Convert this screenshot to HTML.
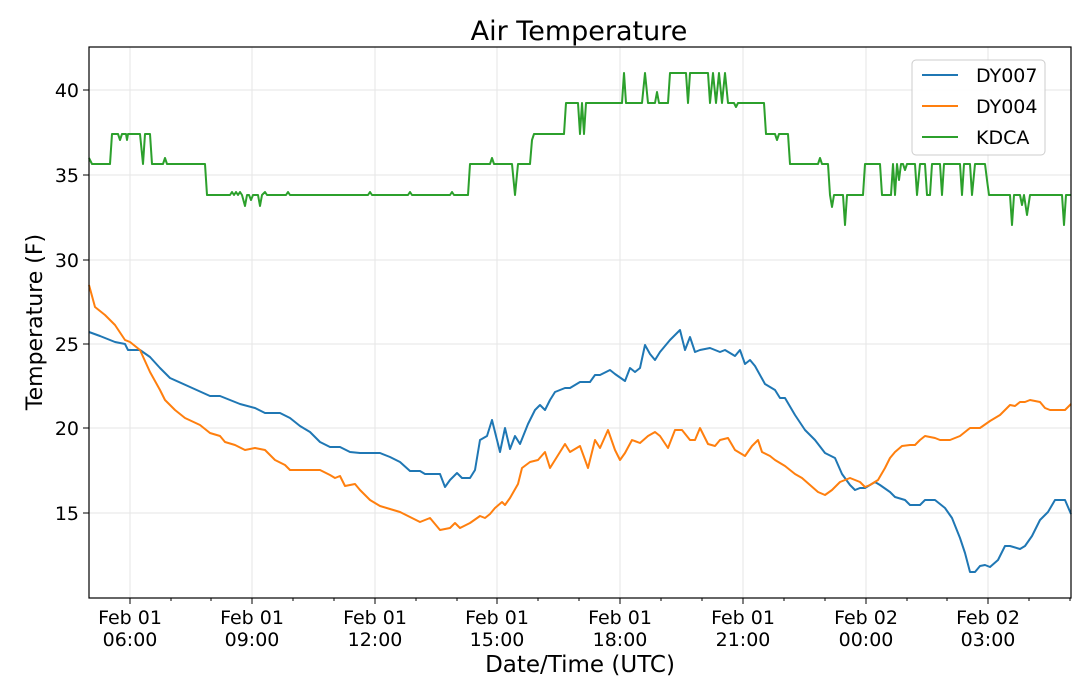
<!DOCTYPE html>
<html><head><meta charset="utf-8"><style>
html,body{margin:0;padding:0;background:#fff;}
svg{display:block;font-family:"DejaVu Sans","Liberation Sans",sans-serif;}
</style></head><body>
<svg width="1080" height="686" viewBox="0 0 1080 686" xmlns="http://www.w3.org/2000/svg">
<rect width="1080" height="686" fill="#fff"/>
<g stroke="#e6e6e6" stroke-width="1">
<line x1="130" y1="47" x2="130" y2="598"/><line x1="252" y1="47" x2="252" y2="598"/>
<line x1="375" y1="47" x2="375" y2="598"/><line x1="497" y1="47" x2="497" y2="598"/>
<line x1="620" y1="47" x2="620" y2="598"/><line x1="743" y1="47" x2="743" y2="598"/>
<line x1="866" y1="47" x2="866" y2="598"/><line x1="988" y1="47" x2="988" y2="598"/>
<line x1="89" y1="90" x2="1071" y2="90"/><line x1="89" y1="175" x2="1071" y2="175"/>
<line x1="89" y1="260" x2="1071" y2="260"/><line x1="89" y1="344" x2="1071" y2="344"/>
<line x1="89" y1="428" x2="1071" y2="428"/><line x1="89" y1="513" x2="1071" y2="513"/>
</g>
<g fill="none" stroke-width="2" stroke-linejoin="round">
<polyline stroke="#2ca02c" points="89,158 92,164 110,164 112,134 118,134 120,140 122,134 126,134 127,140 128,134 140,134 143,164 145,134 150,134 152,164 163,164 165,158 167,164 205,164 207,195 230,195 232,192 234,195 236,192 238,195 240,192 242,195 245,206 247,195 249,195 251,200 253,195 258,195 260,206 262,195 265,192 267,195 286,195 288,192 290,195 368,195 370,192 372,195 408,195 410,192 412,195 450,195 452,192 454,195 468,195 470,164 490,164 492,158 494,164 512,164 515,195 518,164 530,164 532,140 534,134 564,134 566,103 578,103 580,134 582,103 584,134 586,103 622,103 624,73 626,103 642,103 645,73 648,103 655,103 657,92 659,103 668,103 670,73 686,73 688,103 690,73 708,73 710,103 713,73 716,103 719,73 722,103 725,73 728,103 734,103 736,107 738,103 764,103 766,134 775,134 777,140 779,134 788,134 790,164 818,164 820,158 822,164 828,164 830,195 832,207 834,195 843,195 845,225 847,195 863,195 865,164 880,164 882,195 891,195 893,164 895,195 897,164 899,180 901,164 903,164 905,170 907,164 915,164 917,195 920,164 925,164 927,195 930,195 932,164 940,164 942,195 944,164 960,164 962,195 964,164 970,164 972,195 975,164 985,164 987,180 989,195 1010,195 1012,225 1014,195 1020,195 1022,205 1024,195 1027,215 1030,195 1062,195 1064,225 1066,195 1071,195"/>
<polyline stroke="#1f77b4" points="89,332 100,336 115,342 125,344 128,350 140,350 150,357 160,368 170,378 190,387 210,396 220,396 240,404 255,408 265,413 280,413 290,418 300,426 310,432 320,442 330,447 340,447 350,452 360,453 380,453 390,457 400,462 410,471 420,471 425,474 440,474 445,487 450,480 457,473 462,478 470,478 475,470 480,440 487,436 492,420 500,452 505,428 510,449 515,436 520,444 528,424 535,410 540,405 545,410 550,400 555,392 565,388 570,388 580,382 590,382 595,375 600,375 610,370 615,374 625,381 630,368 635,372 640,368 645,345 650,354 655,360 660,352 670,340 680,330 685,350 690,337 695,352 700,350 710,348 720,352 725,350 735,356 740,350 745,364 750,360 755,366 765,384 775,390 780,398 785,398 795,415 805,430 815,440 825,453 835,458 842,474 850,485 855,490 860,488 865,488 870,485 875,482 880,485 890,492 895,497 905,500 910,505 920,505 925,500 935,500 945,508 952,518 960,538 965,553 970,572 975,572 980,566 985,565 990,567 998,560 1005,546 1010,546 1020,549 1025,546 1032,536 1040,520 1048,512 1055,500 1065,500 1071,514"/>
<polyline stroke="#ff7f0e" points="89,285 95,307 105,315 115,325 125,340 130,342 140,350 150,372 160,390 165,400 175,410 185,418 200,425 210,433 220,436 225,442 235,445 245,450 255,448 265,450 275,460 285,465 290,470 320,470 330,475 335,478 340,476 345,486 355,484 360,490 370,500 380,506 390,509 400,512 410,517 420,522 430,518 440,530 450,528 455,523 460,528 470,523 480,516 485,518 490,514 495,508 502,502 505,505 510,498 518,484 522,468 530,462 538,460 545,452 550,468 555,460 565,444 570,452 580,446 588,468 595,440 600,448 608,430 615,450 620,460 625,453 632,440 640,443 648,436 655,432 660,436 668,448 675,430 682,430 690,440 695,440 700,428 708,444 715,446 720,440 728,438 735,450 745,456 752,446 758,440 762,452 770,456 775,460 785,466 795,474 802,478 810,485 818,492 825,495 832,490 840,482 850,478 860,482 865,487 870,485 878,480 885,468 890,458 895,452 902,446 910,445 915,445 920,440 925,436 935,438 940,440 950,440 960,436 965,432 970,428 980,428 990,421 1000,415 1005,410 1010,405 1015,406 1020,402 1025,402 1030,400 1040,402 1045,408 1050,410 1065,410 1071,404"/>
</g>
<rect x="89" y="47" width="982" height="551" fill="none" stroke="#000" stroke-width="1.2"/>
<g stroke="#000" stroke-width="1">
<line x1="130" y1="598" x2="130" y2="604"/><line x1="252" y1="598" x2="252" y2="604"/>
<line x1="375" y1="598" x2="375" y2="604"/><line x1="497" y1="598" x2="497" y2="604"/>
<line x1="620" y1="598" x2="620" y2="604"/><line x1="743" y1="598" x2="743" y2="604"/>
<line x1="866" y1="598" x2="866" y2="604"/><line x1="988" y1="598" x2="988" y2="604"/>
<line x1="171" y1="598" x2="171" y2="601"/><line x1="211" y1="598" x2="211" y2="601"/>
<line x1="293" y1="598" x2="293" y2="601"/><line x1="334" y1="598" x2="334" y2="601"/>
<line x1="416" y1="598" x2="416" y2="601"/><line x1="457" y1="598" x2="457" y2="601"/>
<line x1="538" y1="598" x2="538" y2="601"/><line x1="579" y1="598" x2="579" y2="601"/>
<line x1="661" y1="598" x2="661" y2="601"/><line x1="702" y1="598" x2="702" y2="601"/>
<line x1="784" y1="598" x2="784" y2="601"/><line x1="825" y1="598" x2="825" y2="601"/>
<line x1="907" y1="598" x2="907" y2="601"/><line x1="947" y1="598" x2="947" y2="601"/>
<line x1="1029" y1="598" x2="1029" y2="601"/><line x1="1070" y1="598" x2="1070" y2="601"/>
<line x1="83" y1="90" x2="89" y2="90"/><line x1="83" y1="175" x2="89" y2="175"/>
<line x1="83" y1="260" x2="89" y2="260"/><line x1="83" y1="344" x2="89" y2="344"/>
<line x1="83" y1="428" x2="89" y2="428"/><line x1="83" y1="513" x2="89" y2="513"/>
</g>
<g font-size="19" fill="#000" text-anchor="end">
<text x="79" y="97">40</text><text x="79" y="182">35</text><text x="79" y="267">30</text>
<text x="79" y="351">25</text><text x="79" y="435">20</text><text x="79" y="520">15</text>
</g>
<g font-size="19" fill="#000" text-anchor="middle">
<text x="130" y="624">Feb 01</text><text x="130" y="646">06:00</text>
<text x="252" y="624">Feb 01</text><text x="252" y="646">09:00</text>
<text x="375" y="624">Feb 01</text><text x="375" y="646">12:00</text>
<text x="497" y="624">Feb 01</text><text x="497" y="646">15:00</text>
<text x="620" y="624">Feb 01</text><text x="620" y="646">18:00</text>
<text x="743" y="624">Feb 01</text><text x="743" y="646">21:00</text>
<text x="866" y="624">Feb 02</text><text x="866" y="646">00:00</text>
<text x="988" y="624">Feb 02</text><text x="988" y="646">03:00</text>
<text x="580" y="672" font-size="23">Date/Time (UTC)</text>
<text x="579" y="40" font-size="27">Air Temperature</text>
<text transform="translate(42,322) rotate(-90)" font-size="22">Temperature (F)</text>
</g>
<rect x="912" y="60" width="133" height="95" rx="4" fill="#fff" fill-opacity="0.85" stroke="#ccc"/>
<g stroke-width="2">
<line x1="922" y1="75" x2="958" y2="75" stroke="#1f77b4"/>
<line x1="922" y1="106" x2="958" y2="106" stroke="#ff7f0e"/>
<line x1="922" y1="137" x2="958" y2="137" stroke="#2ca02c"/>
</g>
<g font-size="19" fill="#000">
<text x="976" y="82">DY007</text><text x="976" y="113">DY004</text><text x="976" y="144">KDCA</text>
</g>
</svg>
</body></html>
